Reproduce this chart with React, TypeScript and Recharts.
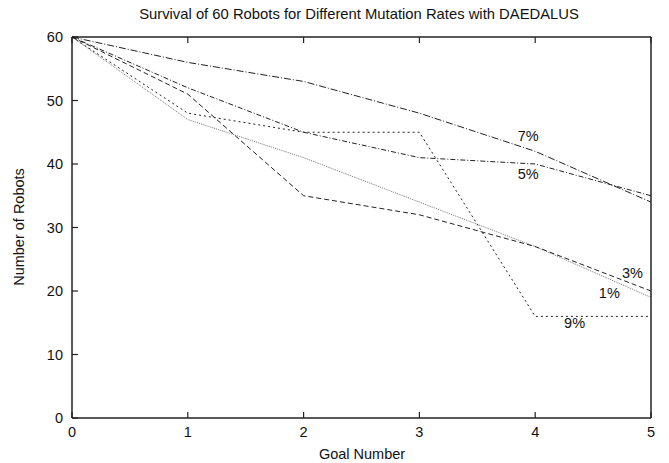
import React from 'react';
import { LineChart, Line, XAxis, YAxis, ReferenceDot } from 'recharts';

const goals = [0, 1, 2, 3, 4, 5];
const rate1 = [60, 47, 41, 34, 27, 19];
const rate3 = [60, 51, 35, 32, 27, 20];
const rate5 = [60, 52, 45, 41, 40, 35];
const rate7 = [60, 56, 53, 48, 42, 34];
const rate9 = [60, 48, 45, 45, 16, 16];
const xTicks = [0, 1, 2, 3, 4, 5];
const yTicks = [0, 10, 20, 30, 40, 50, 60];
const labelNames = ['7%', '5%', '3%', '1%', '9%'];
const labelX = [3.94, 3.94, 4.84, 4.64, 4.34];
const labelY = [44.4, 38.4, 22.9, 19.7, 15.0];

const data = goals.map((g, i) => ({
  goal: g,
  r1: rate1[i],
  r3: rate3[i],
  r5: rate5[i],
  r7: rate7[i],
  r9: rate9[i],
}));

const FONT = '"Liberation Sans", Arial, Helvetica, sans-serif';
const AX = '#222';
const TL = 6;
const FS = 14.5;

const BottomTick = (p: any) => (
  <g>
    <line x1={p.x} y1={p.y} x2={p.x} y2={p.y - TL} stroke={AX} strokeWidth={1.2} />
    <text x={p.x} y={p.y + 19} textAnchor="middle" fontSize={FS} fontFamily={FONT} fill="#111">
      {p.payload.value}
    </text>
  </g>
);
const TopTick = (p: any) => (
  <line x1={p.x} y1={p.y} x2={p.x} y2={p.y + TL} stroke={AX} strokeWidth={1.2} />
);
const LeftTick = (p: any) => (
  <g>
    <line x1={p.x} y1={p.y} x2={p.x + TL} y2={p.y} stroke={AX} strokeWidth={1.2} />
    <text x={p.x - 9} y={p.y + 5} textAnchor="end" fontSize={FS} fontFamily={FONT} fill="#111">
      {p.payload.value}
    </text>
  </g>
);
const RightTick = (p: any) => (
  <line x1={p.x} y1={p.y} x2={p.x - TL} y2={p.y} stroke={AX} strokeWidth={1.2} />
);

export default function App() {
  return (
    <div style={{ position: 'absolute', left: 0, top: 0, width: 669, height: 463, background: '#fff' }}>
      <div
        style={{
          position: 'absolute',
          left: 0,
          width: 718,
          top: 6,
          textAlign: 'center',
          fontFamily: FONT,
          fontSize: 14.8,
          color: '#111',
        }}
      >
        Survival of 60 Robots for Different Mutation Rates with DAEDALUS
      </div>
      <LineChart
        width={669}
        height={463}
        data={data}
        margin={{ top: 0, right: 0, bottom: 0, left: 0 }}
      >
        <XAxis
          dataKey="goal"
          type="number"
          domain={[0, 5]}
          ticks={xTicks}
          height={45}
          tickSize={0}
          tickMargin={0}
          tickLine={false}
          tick={BottomTick}
          axisLine={{ stroke: AX, strokeWidth: 1.5 }}
          interval={0}
        />
        <XAxis
          xAxisId="top"
          orientation="top"
          dataKey="goal"
          type="number"
          domain={[0, 5]}
          ticks={xTicks}
          height={37}
          tickSize={0}
          tickMargin={0}
          tickLine={false}
          tick={TopTick}
          axisLine={{ stroke: AX, strokeWidth: 1.5 }}
          interval={0}
        />
        <YAxis
          type="number"
          domain={[0, 60]}
          ticks={yTicks}
          width={72}
          tickSize={0}
          tickMargin={0}
          tickLine={false}
          tick={LeftTick}
          axisLine={{ stroke: AX, strokeWidth: 1.5 }}
          interval={0}
        />
        <YAxis
          yAxisId="right"
          orientation="right"
          type="number"
          domain={[0, 60]}
          ticks={yTicks}
          width={18}
          tickSize={0}
          tickMargin={0}
          tickLine={false}
          tick={RightTick}
          axisLine={{ stroke: AX, strokeWidth: 1.5 }}
          interval={0}
        />
        <Line dataKey="r1" stroke="#777" strokeWidth={1} strokeDasharray="1 1" dot={false} isAnimationActive={false} />
        <Line dataKey="r3" stroke="#222" strokeWidth={1} strokeDasharray="5 3" dot={false} isAnimationActive={false} />
        <Line dataKey="r5" stroke="#222" strokeWidth={1} strokeDasharray="5 2 1 2" dot={false} isAnimationActive={false} />
        <Line dataKey="r7" stroke="#222" strokeWidth={1} strokeDasharray="7 2 1 2" dot={false} isAnimationActive={false} />
        <Line dataKey="r9" stroke="#222" strokeWidth={1} strokeDasharray="2 3" dot={false} isAnimationActive={false} />
        {labelNames.map((name, i) => (
          <ReferenceDot
            key={name}
            x={labelX[i]}
            y={labelY[i]}
            r={0}
            ifOverflow="visible"
            shape={(p: any) => (
              <text
                x={p.cx}
                y={p.cy + 5}
                textAnchor="middle"
                fontSize={FS}
                fontFamily={FONT}
                fill="#111"
              >
                {name}
              </text>
            )}
          />
        ))}
      </LineChart>
      <div
        style={{
          position: 'absolute',
          left: 0,
          width: 724,
          top: 446,
          textAlign: 'center',
          fontFamily: FONT,
          fontSize: FS,
          color: '#111',
        }}
      >
        Goal Number
      </div>
      <div
        style={{
          position: 'absolute',
          left: 19,
          top: 227,
          transform: 'translate(-50%, -50%) rotate(-90deg)',
          whiteSpace: 'nowrap',
          fontFamily: FONT,
          fontSize: FS,
          color: '#111',
        }}
      >
        Number of Robots
      </div>
    </div>
  );
}
